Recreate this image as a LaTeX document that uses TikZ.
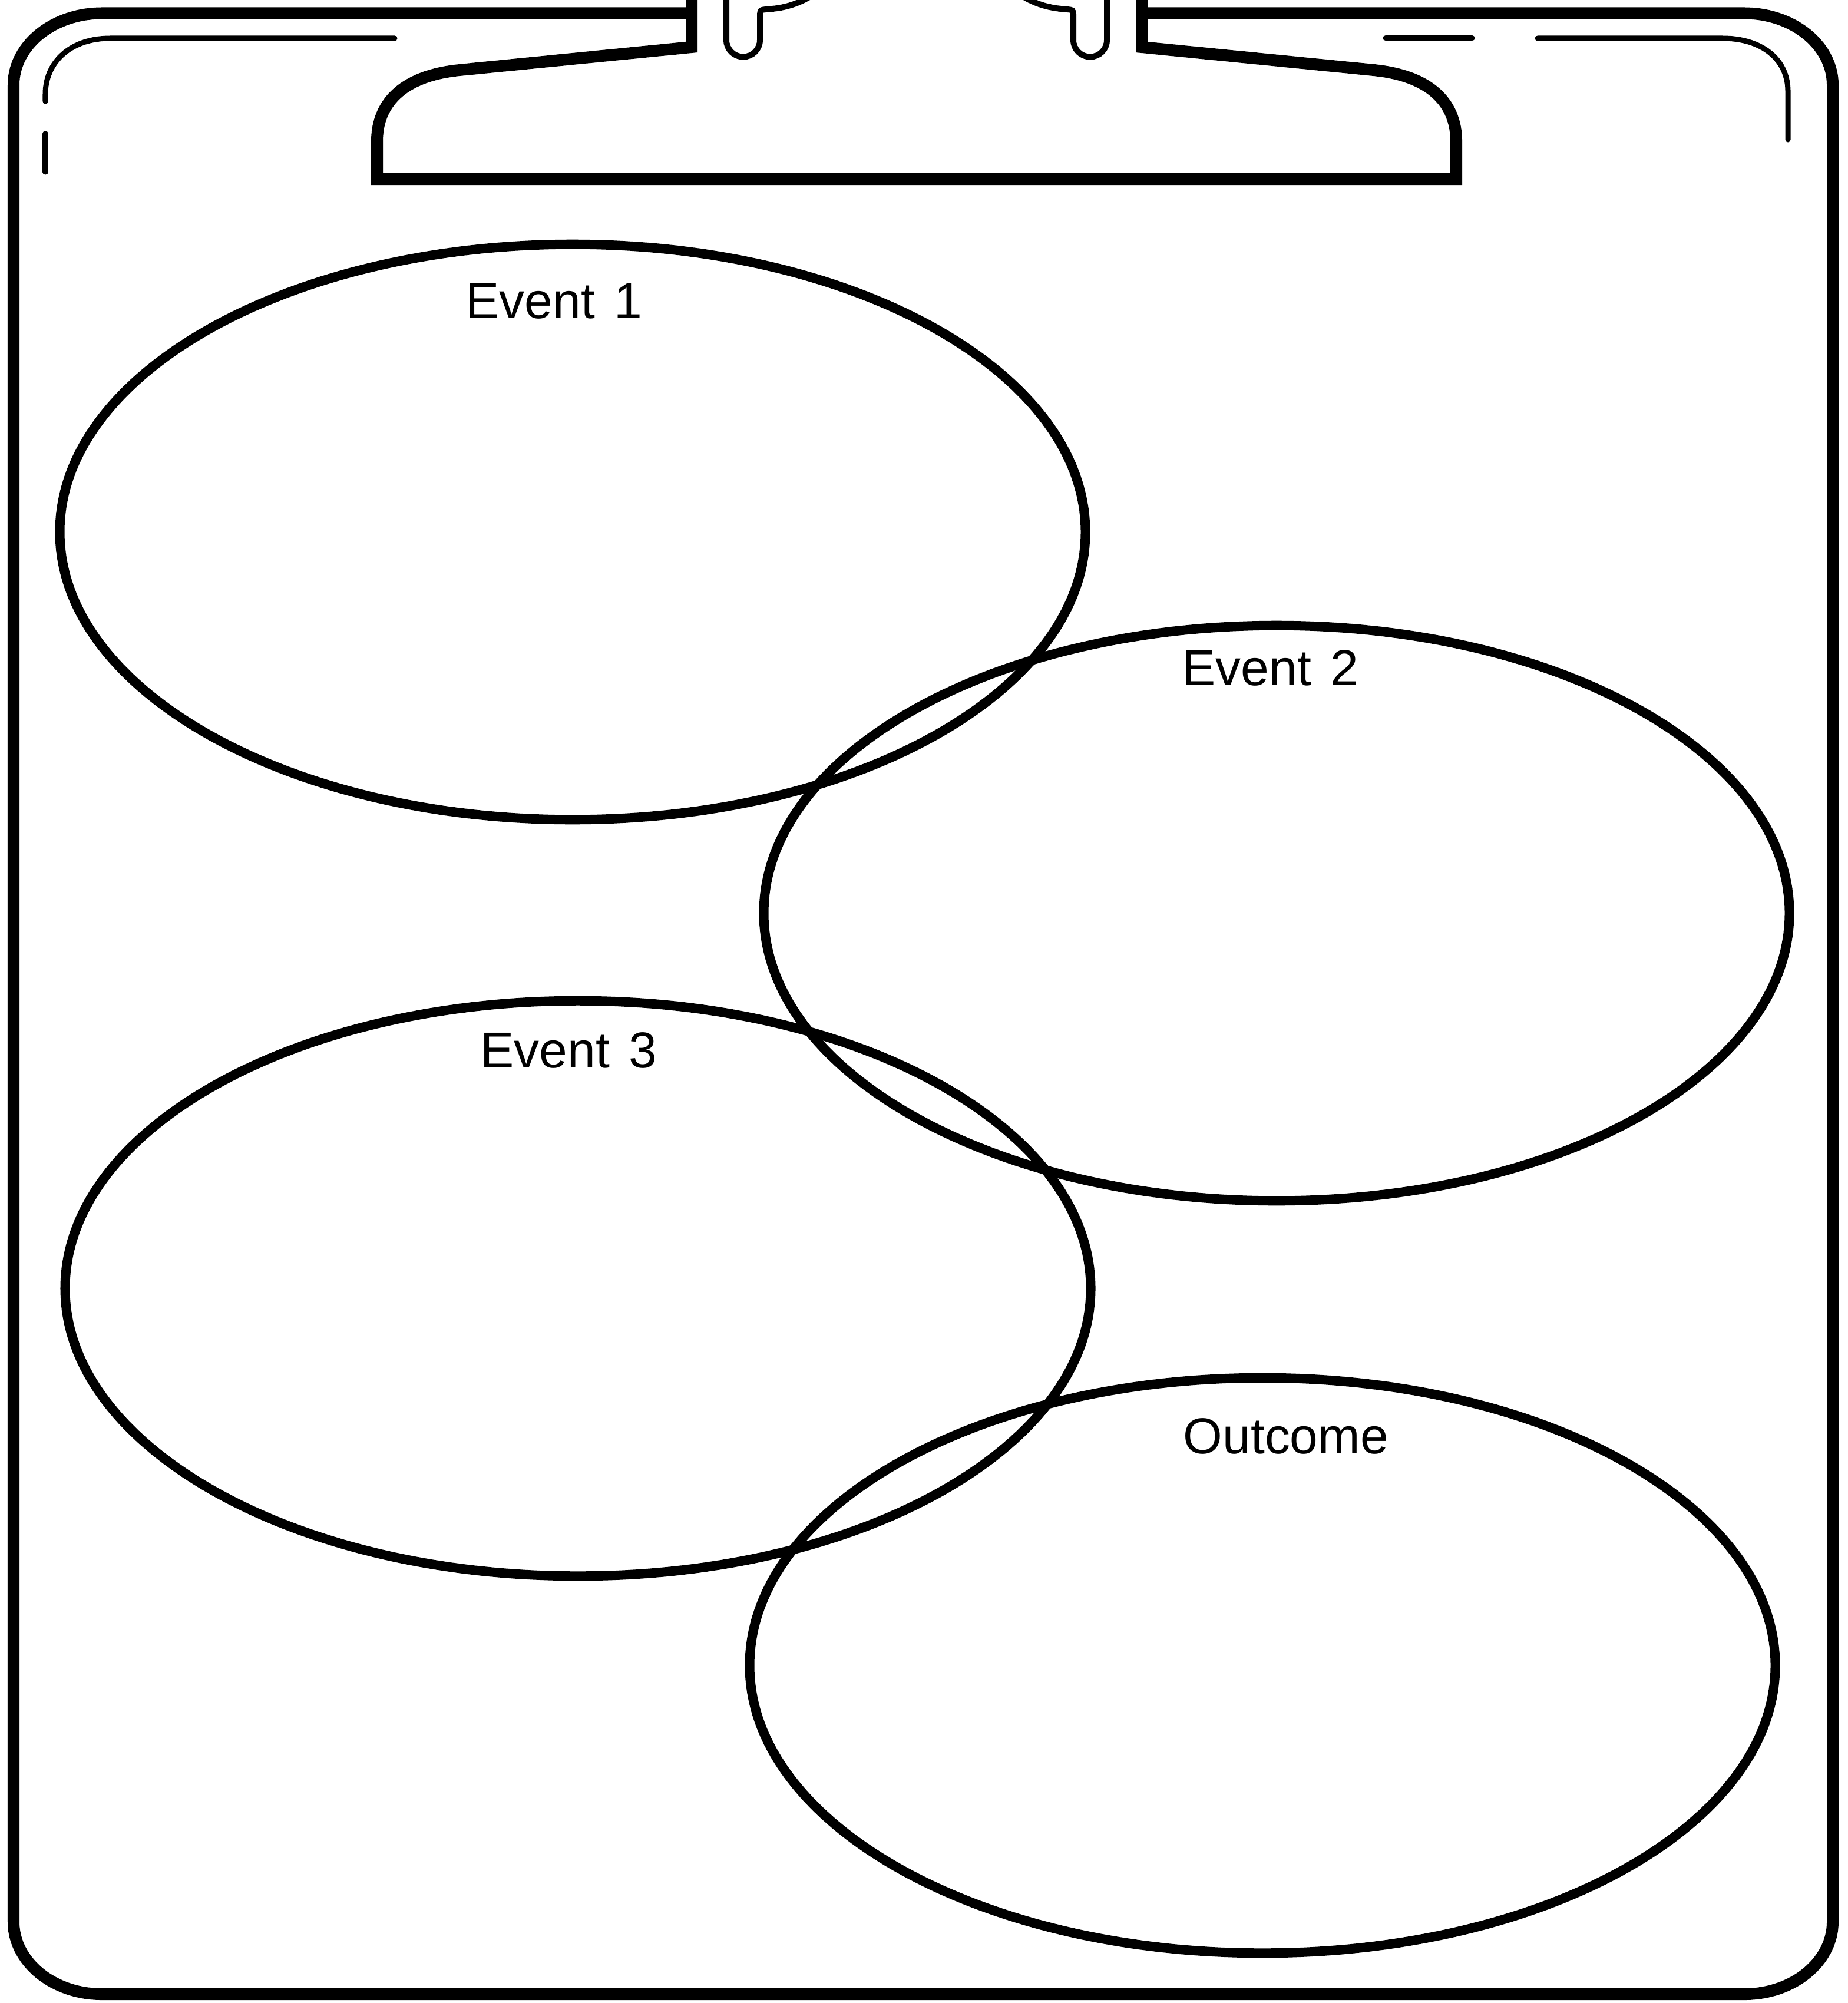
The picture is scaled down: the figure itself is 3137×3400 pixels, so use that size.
\documentclass[tikz,border=0pt]{standalone}
\usepackage{fontspec}
\setmainfont{Liberation Sans}
\usetikzlibrary{shapes.geometric}
\begin{document}
\begin{tikzpicture}[x=0.01cm,y=-0.01cm,
  thickline/.style={line width=0.20cm, line join=miter},
  thinline/.style={line width=0.09cm, line cap=round},
  fingerline/.style={line width=0.10cm},
  bubble/.style={draw, ellipse, line width=0.16cm, inner sep=0pt, minimum width=17.4cm, minimum height=9.76cm},
  lbl/.style={anchor=base west, inner sep=0pt, font=\fontsize{24.4pt}{29pt}\selectfont}]
\useasboundingbox (0,0) rectangle (3137,3400);
\fill[white] (0,0) rectangle (3137,3400);
\clip (0,0) rectangle (3137,3400);
% board
\draw[thickline] (1174,22.5) -- (173,22.5) .. controls (90,22.5) and (23,77) .. (23,144.5) -- (23,3262) .. controls (23,3330) and (90,3385) .. (173,3385) -- (2961,3385) .. controls (3044,3385) and (3111,3330) .. (3111,3262) -- (3111,144.5) .. controls (3111,77) and (3044,22.5) .. (2961,22.5) -- (1938,22.5);
% clip
\draw[thickline] (1174,-20) -- (1174,80) -- (780,119) .. controls (690,128) and (640,170) .. (640,240) -- (640,304) -- (2472,304) -- (2472,240) .. controls (2472,170) and (2422,128) .. (2332,119) -- (1938,80) -- (1938,-20);
% fingers
\draw[fingerline] (1233,-20) -- (1233,68) arc[start angle=180, end angle=0, radius=28.5] -- (1290,24) .. controls (1291,17) .. (1300,16) .. controls (1330,14) and (1355,8) .. (1385,-12);
\draw[fingerline] (1879,-20) -- (1879,68) arc[start angle=0, end angle=180, radius=28.5] -- (1822,24) .. controls (1821,17) .. (1812,16) .. controls (1782,14) and (1757,8) .. (1727,-12);
% highlights
\draw[thinline] (670,65) -- (187,65) .. controls (120,65) and (77,105) .. (77,160) -- (77,172);
\draw[thinline] (77,227) -- (77,292);
\draw[thinline] (2352,65) -- (2499,65);
\draw[thinline] (2610,65) -- (2924,65) .. controls (2990,65) and (3035,100) .. (3035,155) -- (3035,237);
% ellipses
\node[bubble] (e1) at (972,903) {};
\node[bubble] (e2) at (2167,1550) {};
\node[bubble] (e3) at (981,2187) {};
\node[bubble] (out) at (2143,2827) {};
% labels
\node[lbl] (t1) at (790,540) {Event\hspace{0.32cm}1};
\node[lbl] (t2) at (2006,1163) {Event\hspace{0.32cm}2};
\node[lbl] (t3) at (815,1812) {Event\hspace{0.32cm}3};
\node[lbl] (t4) at (2008,2467) {Outcome};
\end{tikzpicture}
\end{document}
